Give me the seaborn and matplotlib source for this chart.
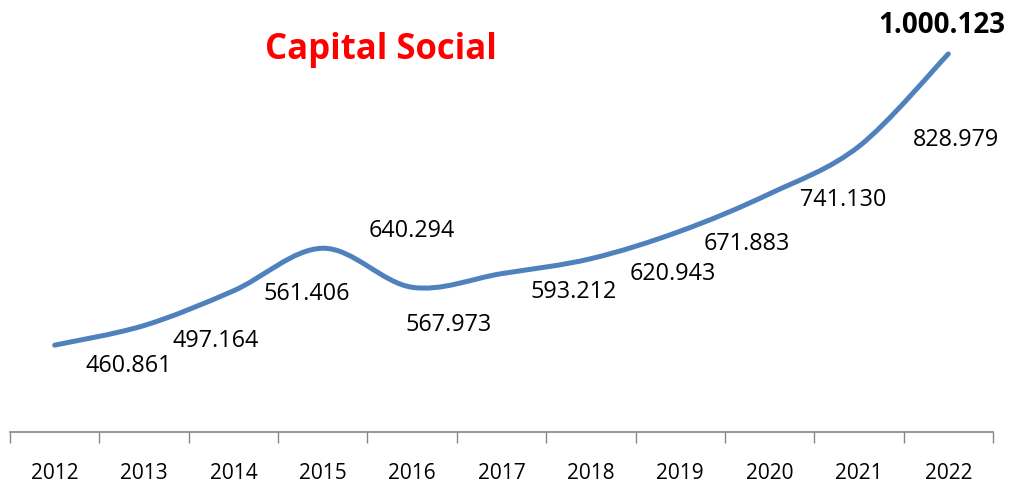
import numpy as np
import matplotlib
matplotlib.use("Agg")
import matplotlib.pyplot as plt
from matplotlib.path import Path
from matplotlib.patches import PathPatch
import seaborn as sns

# Chart data
years = ["2012", "2013", "2014", "2015", "2016", "2017",
         "2018", "2019", "2020", "2021", "2022"]
capital = [460861, 497164, 561406, 640294, 567973, 593212,
           620943, 671883, 741130, 828979, 1000123]
labels = ["460.861", "497.164", "561.406", "640.294", "567.973", "593.212",
          "620.943", "671.883", "741.130", "828.979", "1.000.123"]

# label offsets from each point, in pixels (right, down)
label_offsets = [(74, 21), (72, 15), (73, 3), (89, -17), (36, 38), (72, 18),
                 (82, 15), (67, 13), (74, 6), (97, -6), (-6, -28)]

sns.set_theme(style="white")
plt.rcParams["font.family"] = ["Open Sans", "DejaVu Sans"]

fig = plt.figure(figsize=(10.09, 4.83), dpi=100)
ax = fig.add_axes([10 / 1009, 51 / 483, 983 / 1009, 432 / 483])

x = np.arange(len(years), dtype=float)
y = np.array(capital, dtype=float)

# smoothed line (Catmull-Rom style bezier through the points)
pts = np.column_stack([x, y])
ext = np.vstack([pts[0], pts, pts[-1]])
verts = [pts[0]]
codes = [Path.MOVETO]
for i in range(len(pts) - 1):
    p0, p1, p2, p3 = ext[i], ext[i + 1], ext[i + 2], ext[i + 3]
    verts += [p1 + (p2 - p0) / 6, p2 - (p3 - p1) / 6, p2]
    codes += [Path.CURVE4] * 3
ax.add_patch(PathPatch(Path(verts, codes), facecolor="none", edgecolor="#4F81BD",
                       linewidth=3.6, capstyle="round", joinstyle="round"))

# data labels
for i, (lab, (dx, dy)) in enumerate(zip(labels, label_offsets)):
    last = i == len(labels) - 1
    ax.annotate(lab, (x[i], y[i]), xytext=(dx * 0.72, -dy * 0.72),
                textcoords="offset points", ha="center", va="center",
                fontsize=20 if last else 16.8,
                fontweight="bold" if last else "normal", color="black")

ax.set_xlim(-0.5, len(years) - 0.5)
ax.set_ylim(300000, 1100000)
ax.set_yticks([])

# tick marks between categories, labels at the centers
ax.set_xticks(np.arange(-0.5, len(years)), labels=[""] * (len(years) + 1))
ax.set_xticks(x, labels=years, minor=True)
ax.tick_params(axis="x", which="major", direction="out", length=8, width=1,
               color="#868686", bottom=True)
ax.tick_params(axis="x", which="minor", length=0, pad=22, labelsize=15,
               labelcolor="black")

sns.despine(ax=ax, left=True, top=True, right=True)
ax.spines["bottom"].set_color("#868686")
ax.spines["bottom"].set_linewidth(1.2)
ax.grid(False)

fig.text(381 / 1009, 1 - 50 / 483, "Capital Social", color="#FF0000",
         fontsize=25, fontweight="bold", ha="center", va="center")

fig.savefig("out.png", dpi=100, facecolor="white")
